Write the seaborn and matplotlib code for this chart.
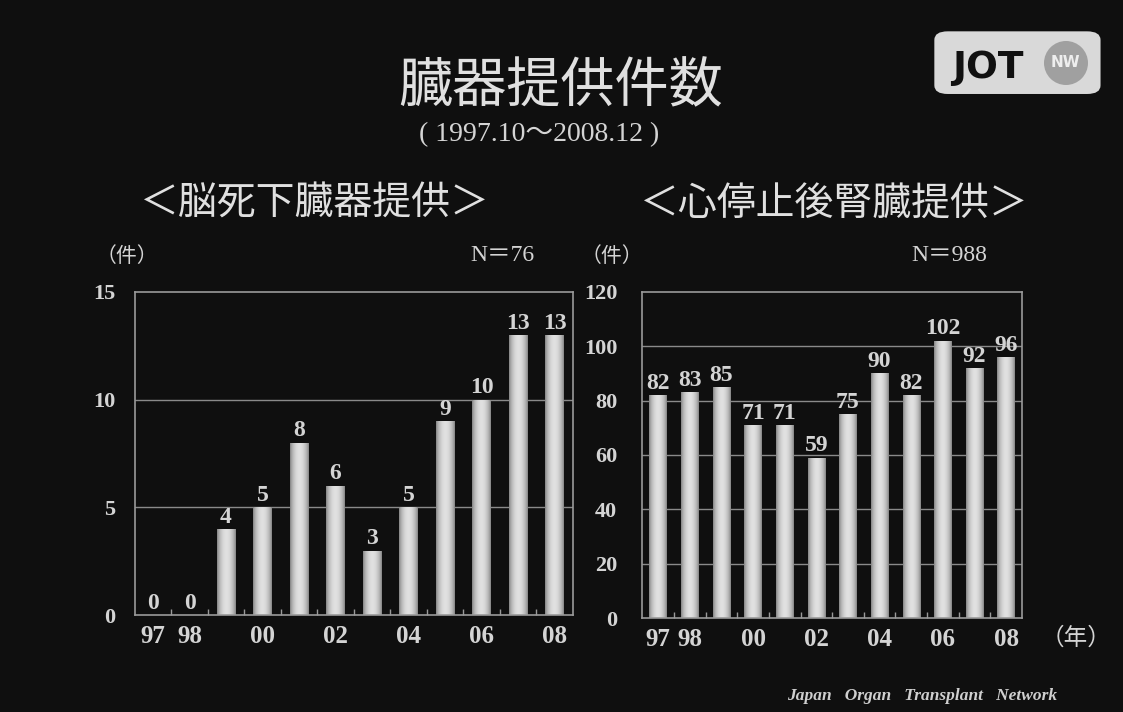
import numpy as np
import pandas as pd
import matplotlib
matplotlib.use("Agg")
import matplotlib.pyplot as plt
from matplotlib.patches import FancyBboxPatch, Circle
import seaborn as sns

# ---- data ----
years = ['97', '98', '99', '00', '01', '02', '03', '04', '05', '06', '07', '08']
tick_labels = ['97', '98', '', '00', '', '02', '', '04', '', '06', '', '08']
brain_dead = [0, 0, 4, 5, 8, 6, 3, 5, 9, 10, 13, 13]
cardiac_kidney = [82, 83, 85, 71, 71, 59, 75, 90, 82, 102, 92, 96]

title = '臓器提供件数'
subtitle = '( 1997.10～2008.12 )'
left_title = '＜脳死下臓器提供＞'
right_title = '＜心停止後腎臓提供＞'
left_n = 'N＝76'
right_n = 'N＝988'
unit = '（件）'
year_unit = '（年）'
footer = 'Japan   Organ   Transplant   Network'

sns.set_theme(style='dark')
BG = '#0f0f0f'
plt.rcParams['font.family'] = ['Liberation Serif', 'Noto Sans CJK JP', 'DejaVu Sans']
SERIF = ['Liberation Serif', 'Noto Sans CJK JP']
CJK = ['Noto Sans CJK JP', 'DejaVu Sans']
TXT = '#d4d4d4'

fig = plt.figure(figsize=(11.23, 7.12), dpi=100, facecolor=BG)

# gradient for cylindrical bars
grad = np.linspace(0, 1, 64)
shade = 0.50 + 0.38 * np.sin(grad * np.pi) ** 0.7
grad_img = np.tile(shade, (2, 1))


def style_axes(ax, values, ymax, ystep, ypad, bar_w):
    df = pd.DataFrame({'year': years, 'n': values})
    sns.barplot(data=df, x='year', y='n', order=years, ax=ax, width=bar_w,
                color='#cccccc', edgecolor='none', saturation=1)
    ax.set_facecolor(BG)
    ax.set_yticks(np.arange(0, ymax + 1, ystep))
    ax.set_xticks(range(len(years)))
    ax.set_xticklabels(tick_labels)
    ax.set_xlabel('')
    ax.set_ylabel('')
    ax.grid(False)
    for y in np.arange(ystep, ymax, ystep):
        ax.axhline(y, color='#8a8a8a', lw=1.0, zorder=0.5)
    for s in ax.spines.values():
        s.set_visible(True)
        s.set_color('#9a9a9a')
        s.set_linewidth(1.2)
    ax.set_xticks(np.arange(0.5, len(years) - 1, 1), minor=True)
    ax.tick_params(axis='x', which='major', length=0, pad=7,
                   labelsize=18, labelcolor=TXT)
    ax.tick_params(axis='x', which='minor', length=4, direction='in',
                   color='#9a9a9a', width=1, bottom=True)
    ax.tick_params(axis='y', length=0, pad=ypad, labelsize=16, labelcolor=TXT)
    for lab in ax.get_xticklabels() + ax.get_yticklabels():
        lab.set_fontweight('bold')
        lab.set_family(SERIF)
    # gradient shading on bars
    for p in ax.patches:
        x0, y0 = p.get_x(), p.get_y()
        w, h = p.get_width(), p.get_height()
        if h <= 0:
            continue
        p.set_facecolor('none')
        im = ax.imshow(grad_img, cmap='gray', vmin=0, vmax=1, aspect='auto',
                       extent=(x0, x0 + w, y0, y0 + h), zorder=2,
                       interpolation='bilinear')
        im.set_clip_path(p)
    ax.set_xlim(-0.5, len(years) - 0.5)
    ax.set_ylim(0, ymax)
    ax.bar_label(ax.containers[0], labels=[str(v) for v in values], padding=1,
                 fontsize=17, color=TXT, fontweight='bold', family=SERIF)


ax1 = fig.add_axes([0.120, 0.136, 0.390, 0.454])
style_axes(ax1, brain_dead, 15, 5, 14, 0.5)

ax2 = fig.add_axes([0.572, 0.132, 0.338, 0.458])
style_axes(ax2, cardiac_kidney, 120, 20, 18, 0.55)

# ---- titles and annotations ----
fig.text(0.499, 0.878, title, ha='center', va='center', fontsize=39,
         color='#e0e0e0', family=CJK)
fig.text(0.480, 0.811, subtitle, ha='center', va='center', fontsize=20,
         color=TXT, family=SERIF)
fig.text(0.280, 0.714, left_title, ha='center', va='center', fontsize=28,
         color='#e0e0e0', family=CJK)
fig.text(0.743, 0.714, right_title, ha='center', va='center', fontsize=28,
         color='#e0e0e0', family=CJK)
fig.text(0.113, 0.641, unit, ha='center', va='center', fontsize=15,
         color=TXT, family=CJK)
fig.text(0.545, 0.641, unit, ha='center', va='center', fontsize=15,
         color=TXT, family=CJK)
fig.text(0.447, 0.641, left_n, ha='center', va='center', fontsize=17,
         color=TXT, family=SERIF)
fig.text(0.845, 0.641, right_n, ha='center', va='center', fontsize=17,
         color=TXT, family=SERIF)
fig.text(0.958, 0.103, year_unit, ha='center', va='center', fontsize=17,
         color=TXT, family=CJK)
fig.text(0.821, 0.022, footer, ha='center', va='center', fontsize=12.5,
         color='#cfcfcf', family=SERIF, style='italic', fontweight='bold')

# ---- logo ----
logo = FancyBboxPatch((0.836, 0.872), 0.140, 0.080,
                      boxstyle='round,pad=0.004,rounding_size=0.012',
                      transform=fig.transFigure, facecolor='#d9d9d9',
                      edgecolor='none')
fig.patches.append(logo)
fig.text(0.880, 0.904, 'JOT', ha='center', va='center', fontsize=27,
         fontweight='bold', color='#111111', family=['DejaVu Sans Condensed', 'DejaVu Sans'])
circ = Circle((10.66, 6.49), 0.22, transform=fig.dpi_scale_trans,
              facecolor='#a0a0a0', edgecolor='none')
fig.patches.append(circ)
fig.text(0.949, 0.912, 'NW', ha='center', va='center', fontsize=11,
         fontweight='bold', color='#eeeeee', family=['DejaVu Sans'])

fig.savefig('out.png', dpi=100, facecolor=BG)
